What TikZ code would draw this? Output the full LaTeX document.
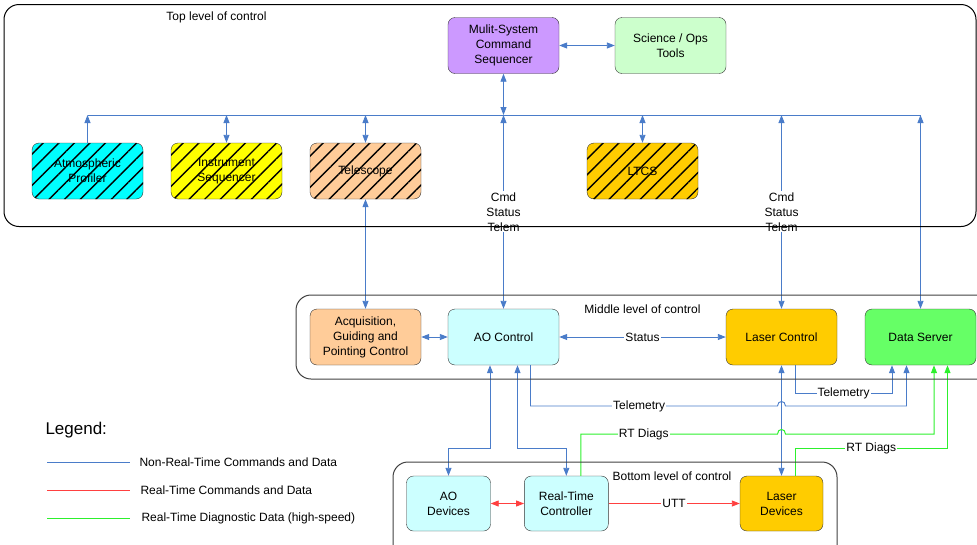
\documentclass[tikz,border=0pt]{standalone}
\usepackage{fontspec}
\setmainfont{Liberation Sans}
\usetikzlibrary{arrows.meta,calc,patterns.meta}
\definecolor{nrtblue}{HTML}{4A7CC9}
\definecolor{rtred}{HTML}{FF4040}
\definecolor{diaggreen}{HTML}{2DF02D}
\definecolor{mscpurple}{HTML}{CC99FF}
\definecolor{scigreen}{HTML}{CCFFCC}
\definecolor{atmcyan}{HTML}{00FFFF}
\definecolor{insyellow}{HTML}{FFFF00}
\definecolor{peach}{HTML}{FFCC99}
\definecolor{gold}{HTML}{FFCC00}
\definecolor{paleblue}{HTML}{CCFFFF}
\definecolor{brightgreen}{HTML}{66FF66}
\tikzset{
	unit/.style={draw=black!80, rounded corners=7pt, minimum width=111pt, minimum height=56pt, align=center, inner sep=2pt},
	striped/.style={postaction={pattern={Lines[angle=45,distance=11pt,line width=1.4pt]}, pattern color=black}},
	tier/.style={draw=black!75, line width=1pt, rounded corners=15pt},
	nrtline/.style={nrtblue, line width=0.9pt},
	rtline/.style={rtred, line width=0.9pt},
	diagline/.style={diaggreen, line width=1pt},
	onehead/.style={-{Triangle[length=8pt,width=6pt]}},
	twohead/.style={{Triangle[length=8pt,width=6pt]}-{Triangle[length=8pt,width=6pt]}},
	lbl/.style={fill=white, text=black, inner sep=1pt, align=center}
}

\begin{document}
\begin{tikzpicture}[x=1pt, y=-1pt, font=\fontsize{12}{15}\selectfont]
			%%%%% START %%%%%
			\useasboundingbox (0,0) rectangle (977,544);
			\clip (0,0) rectangle (977,544);
			
			%%%%% top level
			\node[unit, fill=mscpurple] (msc) at (503.5,45.5) {Mulit-System\\Command\\Sequencer};
			\node[unit, fill=scigreen] (sci) at (670.5,45.5) {Science / Ops\\Tools};
			\node[unit, fill=atmcyan, striped] (atm) at (87.5,171) {Atmospheric\\Profiler};
			\node[unit, fill=insyellow, striped] (ins) at (226.5,171) {Instrument\\Sequencer};
			\node[unit, fill=peach, striped] (tel) at (365.5,171) {Telescope};
			\node[unit, fill=gold, striped] (ltcs) at (642.5,171) {LTCS};
			
			%%%%% middle level
			\node[unit, fill=peach] (agp) at (365.5,337) {Acquisition,\\Guiding and\\Pointing Control};
			\node[unit, fill=paleblue] (aoc) at (503.5,337) {AO Control};
			\node[unit, fill=gold] (lsc) at (781.5,337) {Laser Control};
			\node[unit, fill=brightgreen] (dsv) at (920.5,337) {Data Server};
			
			%%%%% bottom level
			\node[unit, fill=paleblue, minimum width=84pt, minimum height=55pt] (aod) at (448.5,503.5) {AO\\Devices};
			\node[unit, fill=paleblue, minimum width=84pt, minimum height=55pt] (rtc) at (566.3,503.5) {Real-Time\\Controller};
			\node[unit, fill=gold, minimum width=83pt, minimum height=55pt] (lsd) at (781.5,503.5) {Laser\\Devices};
			
			%%%%% bus and rows
			\coordinate (busW) at (87.5,115);
			\coordinate (busE) at (920.5,115);
			\coordinate (rowA) at (0,393);
			\coordinate (rowB) at (0,406);
			\coordinate (rowC) at (0,434);
			\coordinate (rowD) at (0,448);
			
			\draw[nrtline] (busW) -- (busE);
			\draw[nrtline, onehead] (atm.north) -- (atm.north |- busW);
			\draw[nrtline, twohead] (ins.north) -- (ins.north |- busW);
			\draw[nrtline, twohead] (tel.north) -- (tel.north |- busW);
			\draw[nrtline, twohead] (msc.south) -- (msc.south |- busW);
			\draw[nrtline, twohead] (ltcs.north) -- (ltcs.north |- busW);
			\draw[nrtline, twohead] (msc.east) -- (sci.west);
			\draw[nrtline, twohead] (aoc.north) -- (aoc.north |- busW) node[lbl, midway] {Cmd\\Status\\Telem};
			\draw[nrtline, twohead] (lsc.north) -- (lsc.north |- busW) node[lbl, midway] {Cmd\\Status\\Telem};
			\draw[nrtline, twohead] (dsv.north) -- (dsv.north |- busW);
			
			\draw[nrtline, twohead] (tel.south) -- (agp.north);
			\draw[nrtline, twohead] (agp.east) -- (aoc.west);
			\draw[nrtline, twohead] (aoc.east) -- (lsc.west) node[lbl, midway] {Status};
			\draw[nrtline, twohead] (lsc.south) -- (lsd.north);
			
			\draw[nrtline, onehead] ($(lsc.south)+(13.5,0)$) -- ($(lsc.south |- rowA)+(13.5,0)$) -| ($(dsv.south)+(-28.5,0)$) node[lbl, pos=0.25] {Telemetry};
			\draw[nrtline, onehead] ($(aoc.south)+(27,0)$) |- ($(lsc.south |- rowB)+(-4,0)$) node[lbl, pos=0.72] {Telemetry}
				.. controls +(0,-6) and +(0,-6) .. ($(lsc.south |- rowB)+(4,0)$) -| ($(dsv.south)+(-14,0)$);
			\draw[nrtline, twohead] ($(aoc.south)+(-13.5,0)$) -- ($(aoc.south |- rowD)+(-13.5,0)$) -| (aod.north);
			\draw[nrtline, twohead] ($(aoc.south)+(14,0)$) -- ($(aoc.south |- rowD)+(14,0)$) -| (rtc.north);
			
			\draw[diagline, onehead] ($(rtc.north)+(14.5,0)$) |- ($(lsc.south |- rowC)+(-4,0)$) node[lbl, pos=0.66] {RT Diags}
				.. controls +(0,-6) and +(0,-6) .. ($(lsc.south |- rowC)+(4,0)$) -| ($(dsv.south)+(13.5,0)$);
			\draw[diagline, onehead] ($(lsd.north)+(13.5,0)$) -- ($(lsd.north |- rowD)+(13.5,0)$) -| ($(dsv.south)+(27,0)$) node[lbl, pos=0.25] {RT Diags};
			
			\draw[rtline, twohead] (aod.east) -- (rtc.west);
			\draw[rtline, onehead] (rtc.east) -- (lsd.west) node[lbl, midway] {UTT};
			
			%%%%% level frames
			\draw[tier, draw=black] (4,4.5) rectangle (976,226.5);
			\draw[tier] (296,295) rectangle (1000,379);
			\draw[tier] (393,462) rectangle (837,570);
			\node (toplbl) at (216.5,17.5) {Top level of control};
			\node (midlbl) at (642.5,309) {Middle level of control};
			\node (botlbl) at (672,476) {Bottom level of control};
			
			%%%%% legend
			\node[anchor=west, font=\fontsize{17}{20}\selectfont] (legend) at (42,430) {Legend:};
			\coordinate (keyA) at (47,462);
			\coordinate (keyB) at (47,490);
			\coordinate (keyC) at (47,518);
			\draw[nrtline] (keyA) -- ++(83,0);
			\draw[rtline] (keyB) -- ++(83,0);
			\draw[diagline] (keyC) -- ++(83,0);
			\node[anchor=west] (keyAtxt) at (136,462) {Non-Real-Time Commands and Data};
			\node[anchor=west] (keyBtxt) at (137,490) {Real-Time Commands and Data};
			\node[anchor=west] (keyCtxt) at (138,518) {Real-Time Diagnostic Data (high-speed)};
			%%%%% END %%%%%
		\end{tikzpicture}
\end{document}
